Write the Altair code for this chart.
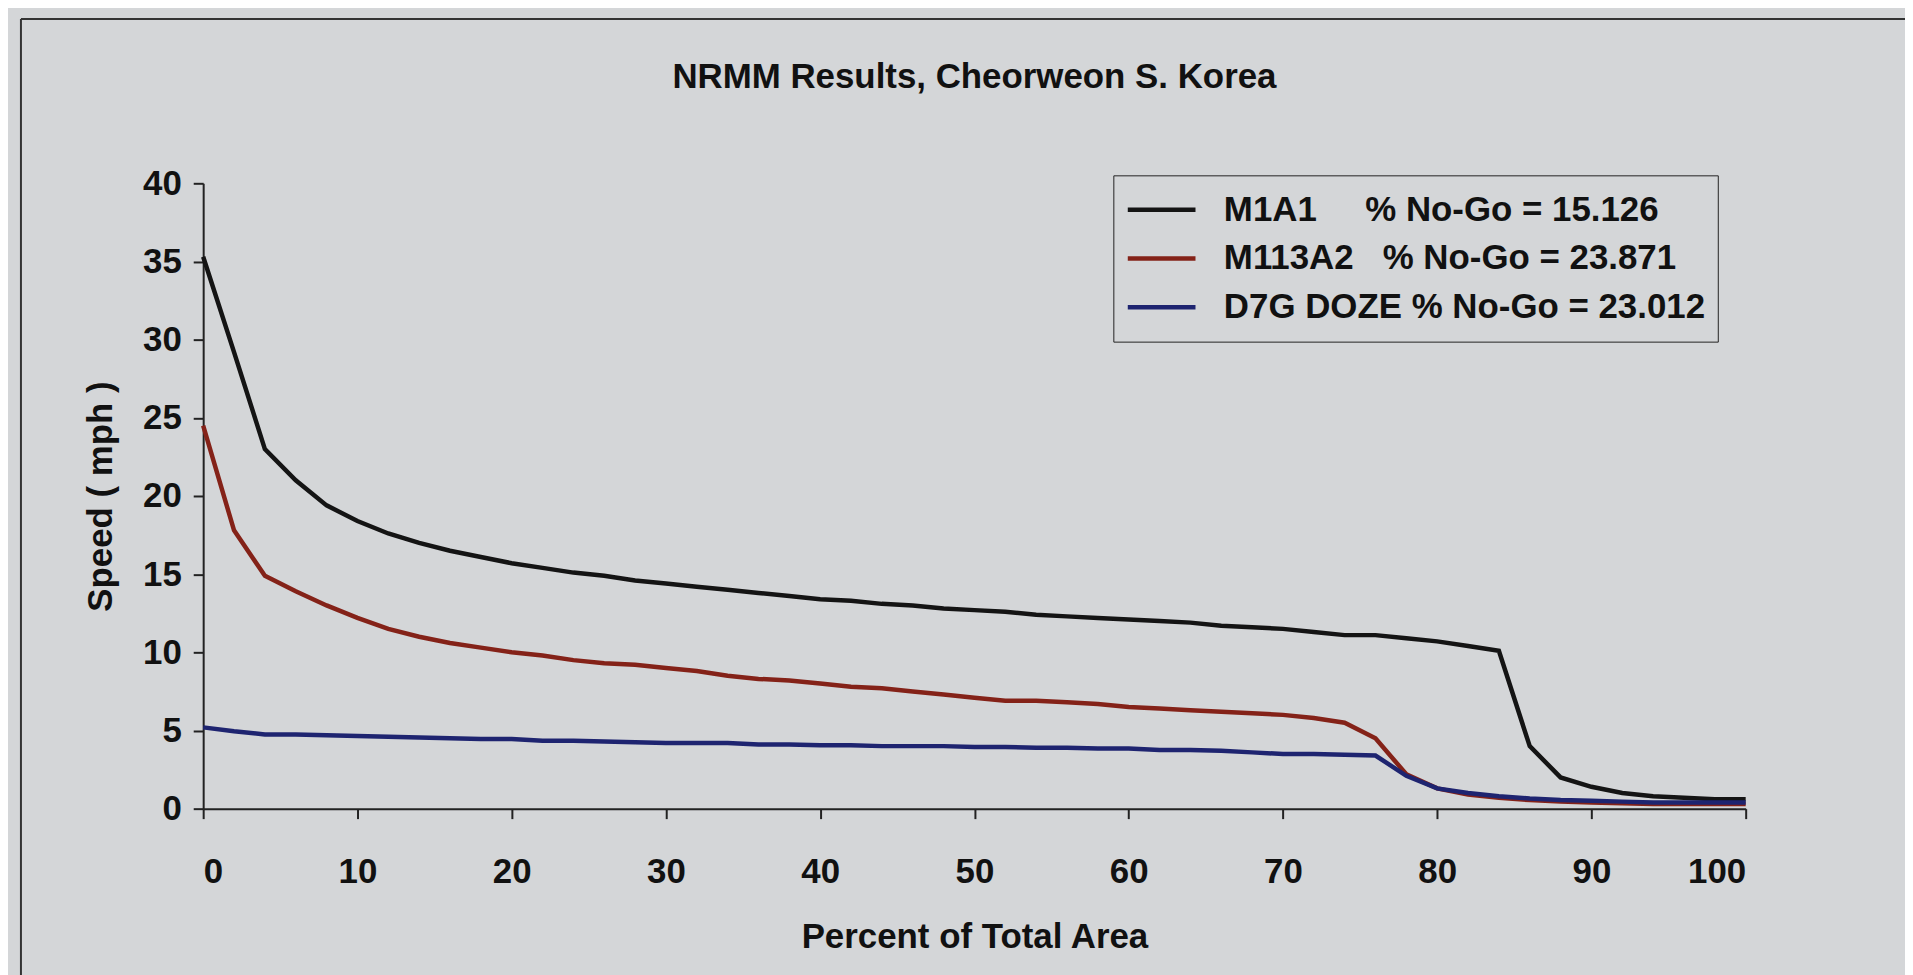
import altair as alt
import pandas as pd

# ---- data ----
pct = list(range(0, 101, 2))

m1a1 = [35.3, 29.2, 23.0, 21.0, 19.4, 18.4, 17.6, 17.0, 16.5, 16.1,
        15.7, 15.4, 15.1, 14.9, 14.6, 14.4, 14.2, 14.0, 13.8, 13.6,
        13.4, 13.3, 13.1, 13.0, 12.8, 12.7, 12.6, 12.4, 12.3, 12.2,
        12.1, 12.0, 11.9, 11.7, 11.6, 11.5, 11.3, 11.1, 11.1, 10.9,
        10.7, 10.4, 10.1, 4.0, 2.0, 1.4, 1.0, 0.8, 0.7, 0.6, 0.6]

m113a2 = [24.5, 17.8, 14.9, 13.9, 13.0, 12.2, 11.5, 11.0, 10.6, 10.3,
          10.0, 9.8, 9.5, 9.3, 9.2, 9.0, 8.8, 8.5, 8.3, 8.2,
          8.0, 7.8, 7.7, 7.5, 7.3, 7.1, 6.9, 6.9, 6.8, 6.7,
          6.5, 6.4, 6.3, 6.2, 6.1, 6.0, 5.8, 5.5, 4.5, 2.2,
          1.3, 0.9, 0.7, 0.55, 0.45, 0.4, 0.35, 0.3, 0.3, 0.3, 0.3]

d7g = [5.2, 4.95, 4.75, 4.75, 4.7, 4.65, 4.6, 4.55, 4.5, 4.45,
       4.45, 4.35, 4.35, 4.3, 4.25, 4.2, 4.2, 4.2, 4.1, 4.1,
       4.05, 4.05, 4.0, 4.0, 4.0, 3.95, 3.95, 3.9, 3.9, 3.85,
       3.85, 3.75, 3.75, 3.7, 3.6, 3.5, 3.5, 3.45, 3.4, 2.1,
       1.3, 1.0, 0.8, 0.65, 0.55, 0.5, 0.45, 0.4, 0.4, 0.4, 0.4]

NB = "\u00a0"
series_names = [
    "M1A1" + NB * 4 + " % No-Go = 15.126",
    "M113A2" + NB * 2 + " % No-Go = 23.871",
    "D7G DOZE % No-Go = 23.012",
]
series_colors = ["#141414", "#842218", "#1e2470"]

x_ticks = [0, 10, 20, 30, 40, 50, 60, 70, 80, 90, 100]
y_ticks = [0, 5, 10, 15, 20, 25, 30, 35, 40]

title_text = "NRMM Results, Cheorweon S. Korea"
x_title = "Percent of Total Area"
y_title = "Speed ( mph )"

rows = []
for name, vals in zip(series_names, [m1a1, m113a2, d7g]):
    for p, v in zip(pct, vals):
        rows.append({"pct": p, "speed": v, "series": name})
df = pd.DataFrame(rows)

FONT = "Liberation Sans, Arial, sans-serif"
FS = 35
W, H = 1549, 628

lines = alt.Chart(df).mark_line(strokeWidth=4.5).encode(
    x=alt.X("pct:Q",
            scale=alt.Scale(domain=[0, 100], nice=False, zero=False),
            axis=alt.Axis(values=x_ticks, title=x_title, grid=False,
                          domainColor="#222222", domainWidth=2,
                          tickColor="#222222", tickWidth=2, tickSize=10,
                          labelFont=FONT, labelFontSize=FS, labelFontWeight="bold",
                          labelColor="#111111", labelPadding=36,
                          titleFont=FONT, titleFontSize=FS, titleFontWeight="bold",
                          titleColor="#111111", titleX=W / 2, titleY=128,
                          titleAlign="center", titleBaseline="middle")),
    y=alt.Y("speed:Q",
            scale=alt.Scale(domain=[0, 40], nice=False),
            axis=alt.Axis(values=y_ticks, title=y_title, grid=False,
                          domainColor="#222222", domainWidth=2,
                          tickColor="#222222", tickWidth=2, tickSize=10,
                          labelFont=FONT, labelFontSize=FS, labelFontWeight="bold",
                          labelColor="#111111", labelPadding=12,
                          titleFont=FONT, titleFontSize=FS, titleFontWeight="bold",
                          titleColor="#111111", titleAngle=270,
                          titleX=-103, titleY=H / 2,
                          titleAlign="center", titleBaseline="middle")),
    color=alt.Color("series:N",
                    scale=alt.Scale(domain=series_names, range=series_colors),
                    legend=alt.Legend(title=None, orient="none",
                                      legendX=914, legendY=-8,
                                      strokeColor="#222222", padding=12,
                                      symbolType="stroke", symbolSize=4624,
                                      symbolStrokeWidth=4.5, clipHeight=45,
                                      rowPadding=4, labelOffset=26,
                                      labelFont=FONT, labelFontSize=FS,
                                      labelFontWeight="bold", labelColor="#111111",
                                      labelLimit=1000)),
)

frame_df = pd.DataFrame({"a": [0]})
frame_top = alt.Chart(frame_df).mark_rule(color="#333333", strokeWidth=2).encode(
    x=alt.value(-183), x2=alt.value(1709), y=alt.value(-165))
frame_left = alt.Chart(frame_df).mark_rule(color="#333333", strokeWidth=2).encode(
    x=alt.value(-183), y=alt.value(-165), y2=alt.value(800))

chart = alt.layer(frame_top, frame_left, lines).properties(
    width=W, height=H,
    title=alt.TitleParams(title_text, font=FONT, fontSize=FS, fontWeight="bold",
                          color="#111111", anchor="middle", offset=0, dy=94,
                          baseline="middle"),
    autosize=alt.AutoSizeParams(type="none"),
    padding={"left": 196, "top": 174, "right": 160, "bottom": 167},
).configure(background="#d4d6d8").configure_view(stroke=None)

chart.save("out.html", embed_options={"renderer": "svg", "actions": False})
